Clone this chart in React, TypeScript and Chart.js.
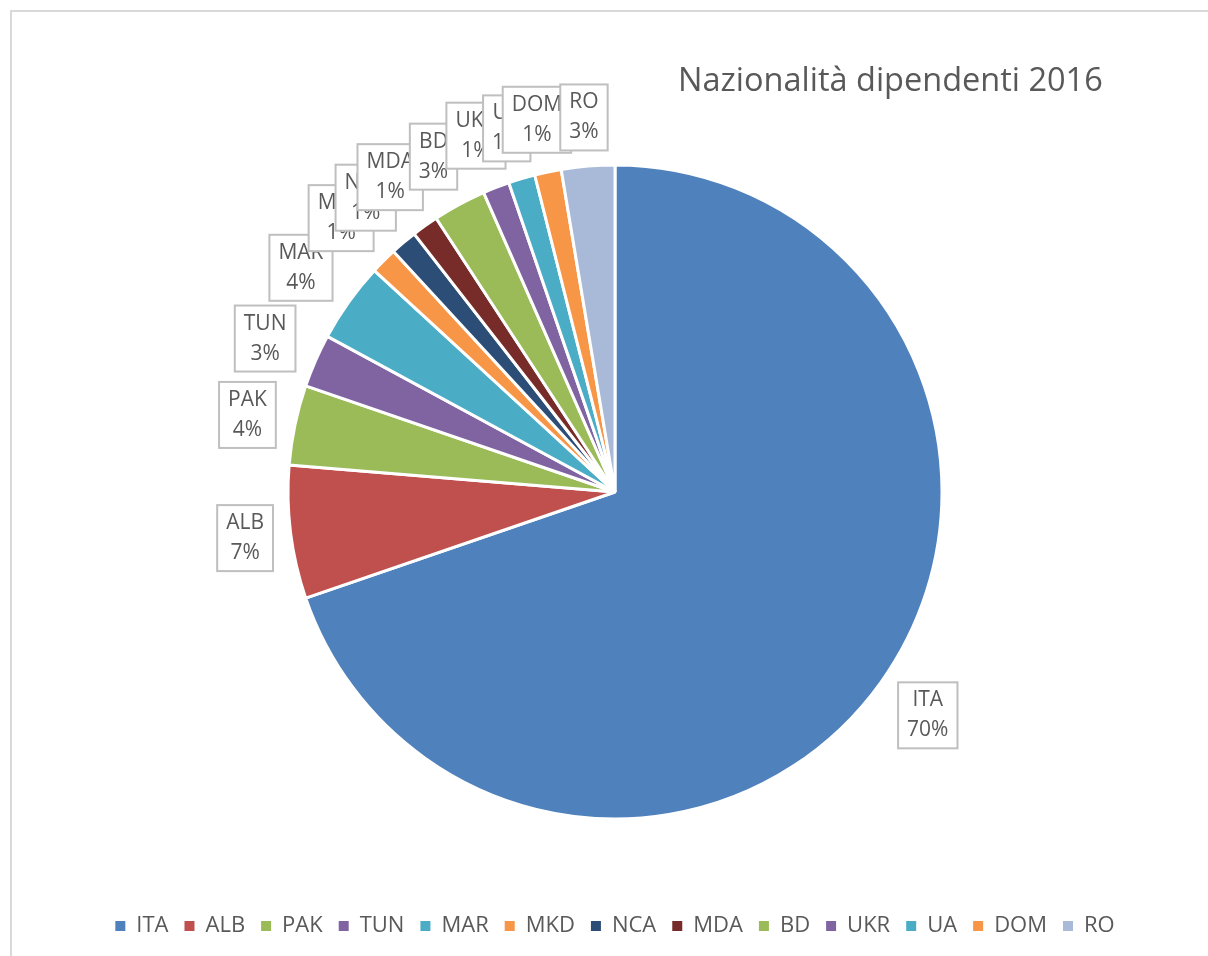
import React, { useEffect, useRef } from "react";
import { Chart, registerables } from "chart.js";

Chart.register(...registerables);

const categories = ["ITA", "ALB", "PAK", "TUN", "MAR", "MKD", "NCA", "MDA", "BD", "UKR", "UA", "DOM", "RO"];
const employees = [53, 5, 3, 2, 3, 1, 1, 1, 2, 1, 1, 1, 2];
const sliceColors = [
  "#4F81BD", "#C0504D", "#9BBB59", "#8064A2", "#4BACC6", "#F79646",
  "#2C4D75", "#772C2A", "#9BBB59", "#8064A2", "#4BACC6", "#F79646", "#A9B9D8",
];
const chartTitle = "Nazionalità dipendenti 2016";

const FONT = '"Open Sans", "Noto Sans", sans-serif';
const TEXT_COLOR = "#595959";

const framePlugin = {
  id: "frame",
  beforeDraw(chart: any) {
    const ctx = chart.ctx;
    ctx.save();
    ctx.strokeStyle = "#D9D9D9";
    ctx.lineWidth = 2;
    ctx.beginPath();
    ctx.moveTo(11, chart.height + 5);
    ctx.lineTo(11, 11);
    ctx.lineTo(chart.width + 5, 11);
    ctx.stroke();
    ctx.fillStyle = TEXT_COLOR;
    ctx.font = `32.5px ${FONT}`;
    ctx.textAlign = "left";
    ctx.textBaseline = "alphabetic";
    ctx.fillText(chartTitle, 678, 91);
    ctx.restore();
  },
};

const calloutPlugin = {
  id: "callouts",
  afterDatasetsDraw(chart: any) {
    const ctx = chart.ctx;
    const meta = chart.getDatasetMeta(0);
    const values: number[] = chart.data.datasets[0].data;
    const total = values.reduce((a, b) => a + b, 0);
    ctx.save();
    ctx.font = `21px ${FONT}`;
    meta.data.forEach((arc: any, i: number) => {
      const p = arc.getProps(["x", "y", "startAngle", "endAngle", "outerRadius"], true);
      const mid = (p.startAngle + p.endAngle) / 2;
      const name = chart.data.labels[i];
      const pct = Math.round((values[i] / total) * 100) + "%";
      const w = Math.max(ctx.measureText(name).width, ctx.measureText(pct).width) + 18;
      const h = 66;
      const c = Math.cos(mid);
      const s = Math.sin(mid);
      const d = p.outerRadius + 14 + Math.abs(c) * w / 2 + Math.abs(s) * h / 2;
      const cx = p.x + c * d;
      const cy = p.y + s * d;
      ctx.fillStyle = "#FFFFFF";
      ctx.fillRect(cx - w / 2, cy - h / 2, w, h);
      ctx.strokeStyle = "#BFBFBF";
      ctx.lineWidth = 2;
      ctx.strokeRect(cx - w / 2, cy - h / 2, w, h);
      ctx.fillStyle = TEXT_COLOR;
      ctx.textAlign = "center";
      ctx.textBaseline = "middle";
      ctx.fillText(name, cx, cy - 15);
      ctx.fillText(pct, cx, cy + 15);
    });
    ctx.restore();
  },
};

export default function App() {
  const canvasRef = useRef<HTMLCanvasElement | null>(null);

  useEffect(() => {
    if (!canvasRef.current) return;
    const chart = new Chart(canvasRef.current, {
      type: "pie",
      data: {
        labels: categories,
        datasets: [
          {
            data: employees,
            backgroundColor: sliceColors,
            borderColor: "#FFFFFF",
            borderWidth: 3,
            radius: 327,
          } as any,
        ],
      },
      options: {
        animation: false,
        responsive: true,
        maintainAspectRatio: false,
        layout: { padding: { left: 22, right: 0, top: 85, bottom: 9 } },
        plugins: {
          title: { display: false },
          tooltip: { enabled: false },
          legend: {
            position: "bottom",
            labels: {
              boxWidth: 10,
              boxHeight: 10,
              padding: 16,
              color: TEXT_COLOR,
              font: { family: FONT, size: 22 },
              generateLabels: (ch: any) => {
                const base = (Chart as any).overrides.pie.plugins.legend.labels.generateLabels(ch);
                return base.map((it: any) => ({ ...it, lineWidth: 0 }));
              },
            },
          },
        },
      },
      plugins: [framePlugin, calloutPlugin],
    });
    return () => chart.destroy();
  }, []);

  return (
    <div style={{ position: "absolute", left: 0, top: 0, width: 1208, height: 956, background: "#FFFFFF" }}>
      <canvas ref={canvasRef} />
    </div>
  );
}
